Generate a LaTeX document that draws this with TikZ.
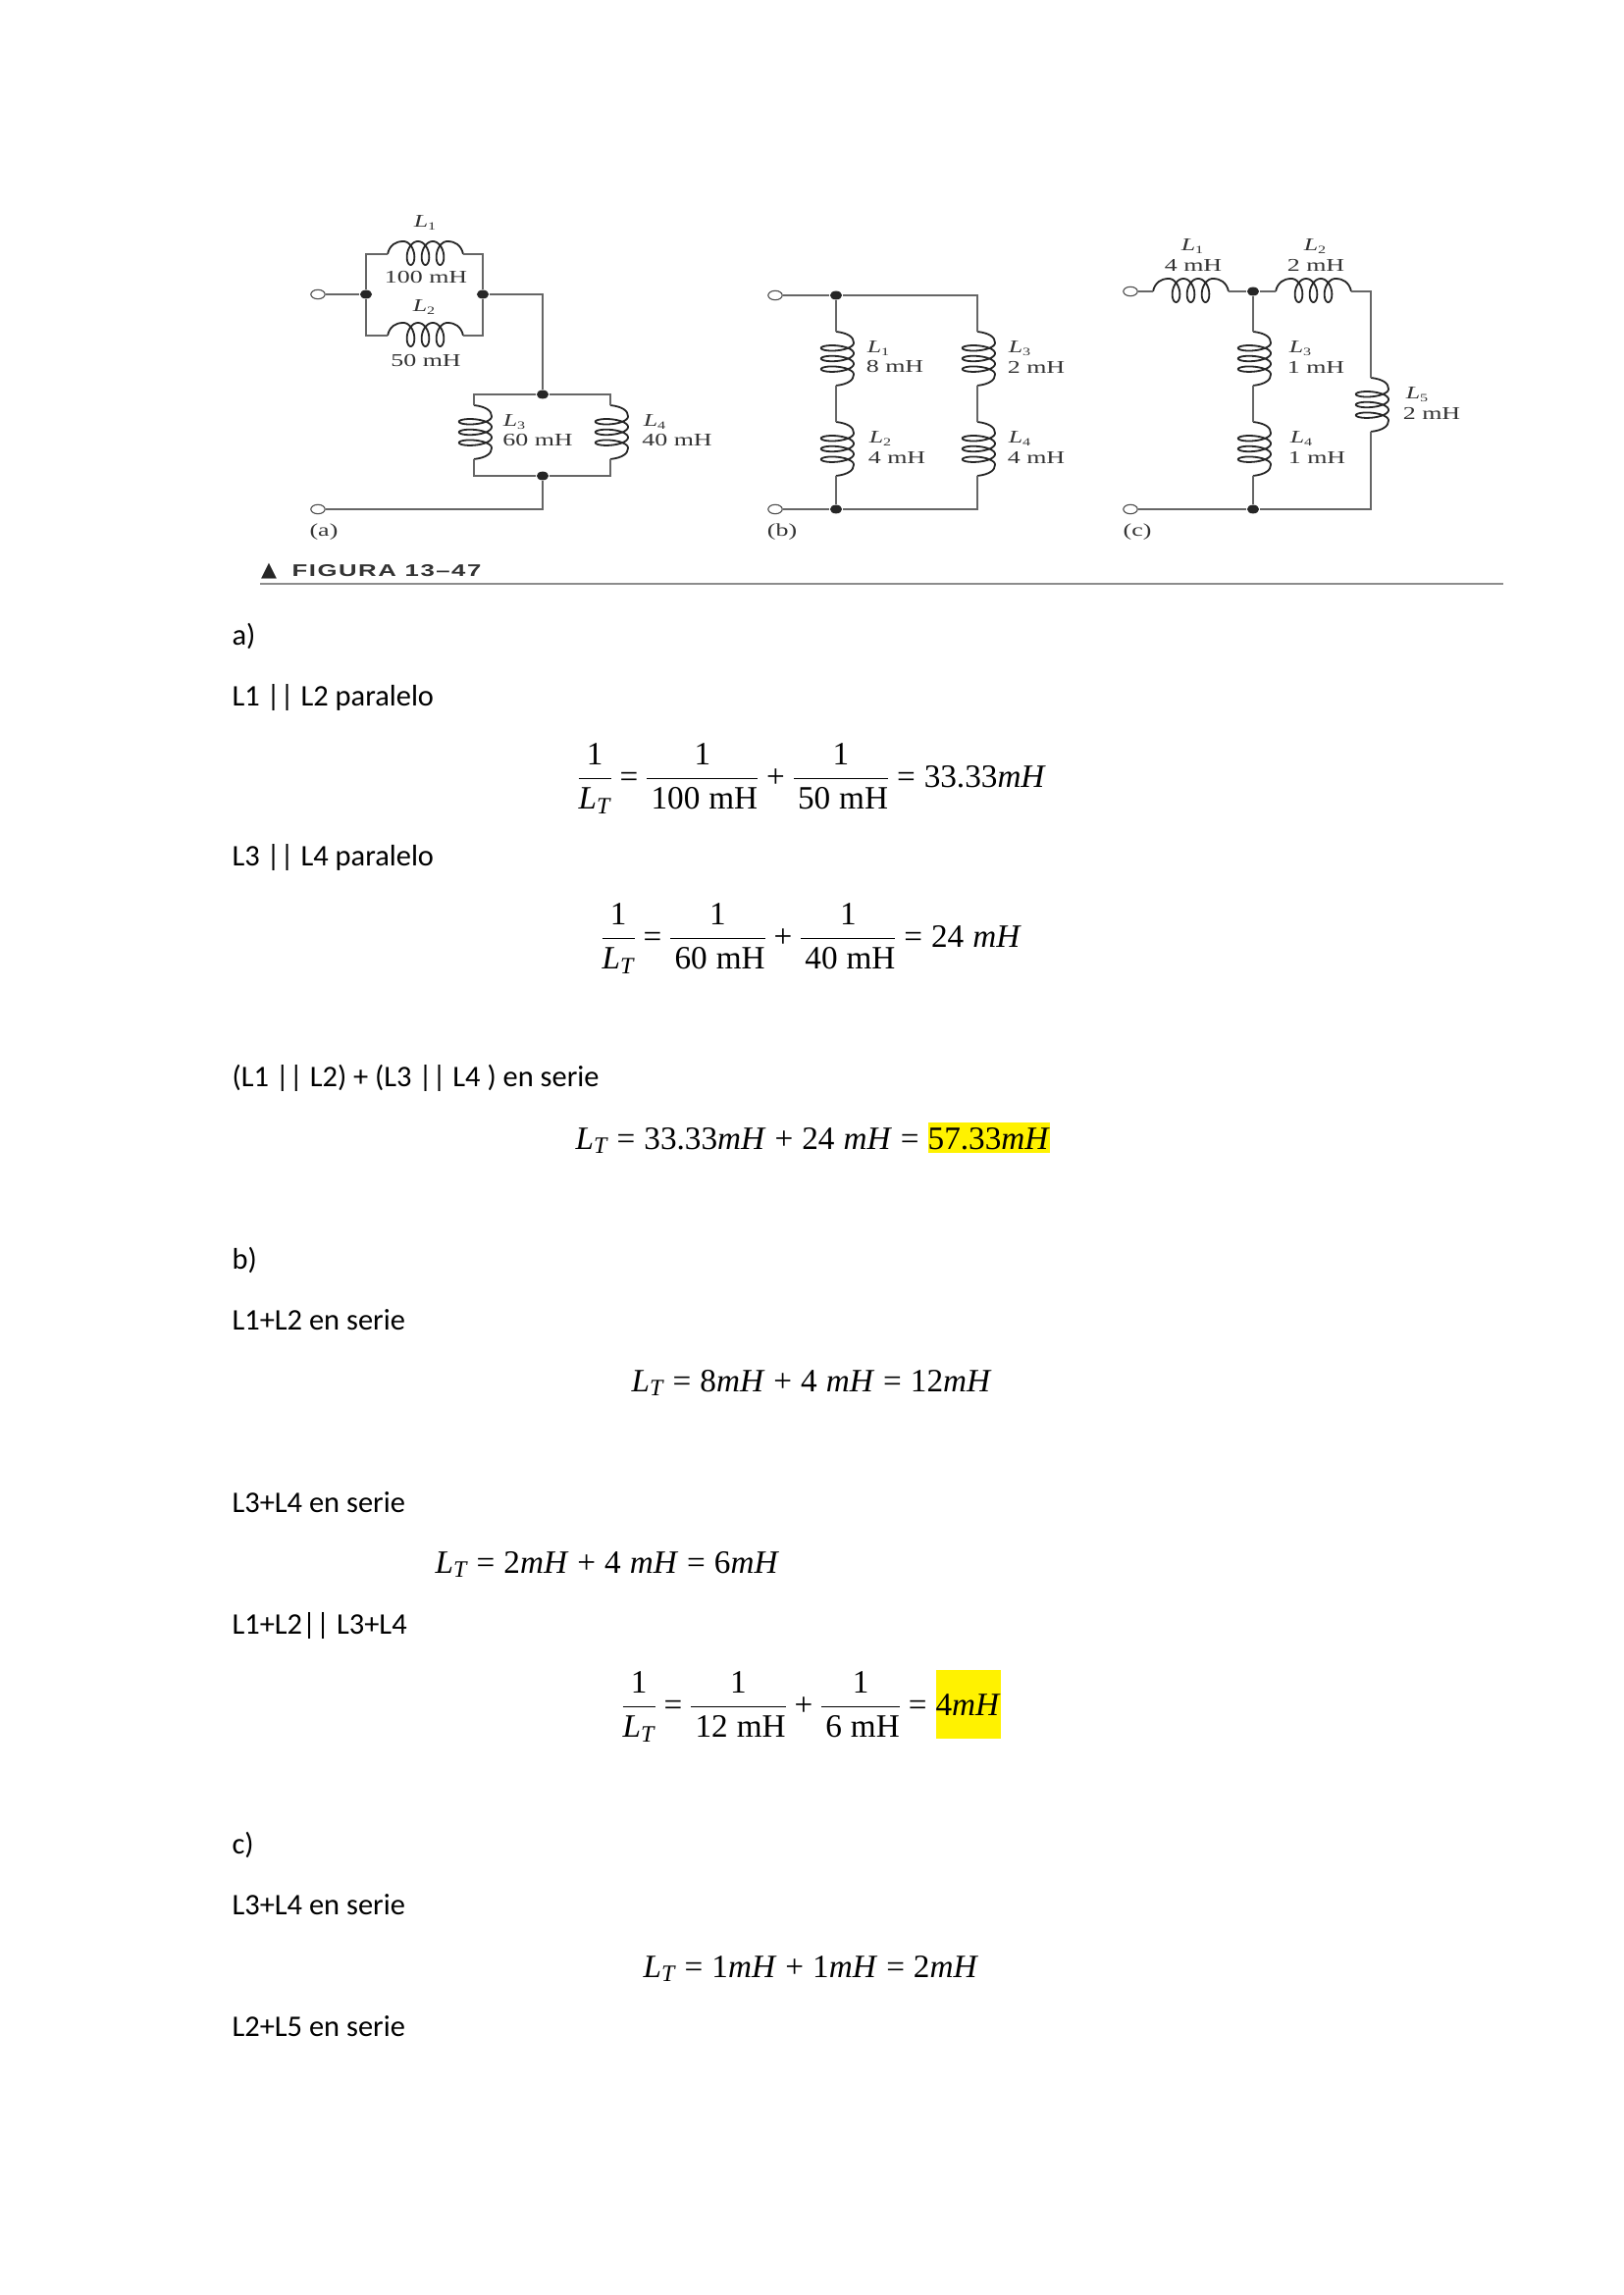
\documentclass[tikz,border=0pt]{standalone}
\usepackage{fontspec}
\setmainfont{Carlito}
\newfontfamily\eqfont{Liberation Serif}
\newfontfamily\figa[FakeStretch=1.42]{Liberation Serif}
\newfontfamily\figtitle[FakeStretch=1.5,LetterSpace=9]{Liberation Sans}
\newfontfamily\symfont{DejaVu Sans}
\usetikzlibrary{shapes.geometric}
\newcommand{\Lsub}[1]{\textit{L}\raisebox{-.35ex}{\scalebox{.62}{#1}}}
\newcommand{\eqfrac}[2]{\ensuremath{\displaystyle\frac{\hbox{#1}}{\hbox{#2}}}}
\newcommand{\LT}{\textit{L}\raisebox{-.3ex}{\scalebox{.72}{\textit{T}}}}
\newcommand{\mH}{\textit{mH}}
\newcommand{\hilite}[3]{{\setlength{\fboxsep}{0pt}\colorbox{yellow}{\rule[-#2]{0pt}{#1}#3}}}
\newcommand{\eqsetup}{\eqfont\fontsize{12}{14}\selectfont\spaceskip=.27em\relax\nulldelimiterspace=0pt\relax}
\newcommand{\coilshape}[1]{%
  \begin{scope}[#1]
    \coordinate (-in) at (0,0);
    \coordinate (-out) at (77,0);
    \draw[black!85, line width=0.65pt] (0,0) .. controls (2,-9) and (8,-13) .. (16,-13)
      -- plot[domain=0:1080, samples=120] ({16+15*\x/360+7.2*sin(\x)}, {-1-12*cos(\x)})
      .. controls (69,-13) and (75,-9) .. (77,0);
  \end{scope}}
\tikzset{
  pics/coilh/.style={code={\coilshape{x={(0.0127cm,0cm)}, y={(0cm,-0.0127cm)}}}},
  pics/coilv/.style={code={\coilshape{x={(0cm,-0.00907cm)}, y={(-0.0176cm,0cm)}}}}
}
\begin{document}
\begin{tikzpicture}[
    x=0.0127cm, y=-0.0127cm,
    wire/.style={black!60, line width=0.6pt},
    terminal/.style={draw=black!70, fill=white, ellipse, inner sep=0pt, minimum width=5.2pt, minimum height=3.4pt, line width=0.4pt},
    junction/.style={fill=black!85, ellipse, inner sep=0pt, minimum width=4.4pt, minimum height=3.2pt},
    label/.style={font=\figa\fontsize{6.6}{7}\selectfont, inner sep=0pt, text=black!80},
    texto/.style={anchor=base west, inner sep=0pt, font=\fontsize{11}{13}\selectfont},
    eq/.style={anchor=base west, inner sep=0pt, font=\eqsetup}
]
    \useasboundingbox (0,0) rectangle (1654,2339);

    % circuit (a)
    \node[terminal] (ta1) at (324,300) {};
    \node[terminal] (ta2) at (324,519) {};
    \node[junction] (ja1) at (373,300) {};
    \node[junction] (ja2) at (492,300) {};
    \node[junction] (ja3) at (553,402) {};
    \node[junction] (ja4) at (553,485) {};
    \coordinate (ca1) at (373,259);
    \coordinate (ca2) at (492,259);
    \coordinate (ca3) at (373,342);
    \coordinate (ca4) at (492,342);
    \coordinate (ca5) at (553,300);
    \coordinate (ca6) at (553,519);
    \coordinate (ca7) at (483,402);
    \coordinate (ca8) at (622,402);
    \coordinate (ca9) at (483,485);
    \coordinate (ca10) at (622,485);
    \path (395,259) pic (la1) {coilh};
    \path (395,342) pic (la2) {coilh};
    \path (483,413) pic (la3) {coilv};
    \path (622,413) pic (la4) {coilv};
    \draw[wire] (ta1) -- (ja1);
    \draw[wire] (ja1) -- (ca1) -- (la1-in);
    \draw[wire] (la1-out) -- (ca2) -- (ja2);
    \draw[wire] (ja1) -- (ca3) -- (la2-in);
    \draw[wire] (la2-out) -- (ca4) -- (ja2);
    \draw[wire] (ja2) -- (ca5) -- (ja3);
    \draw[wire] (ja3) -- (ca7) -- (la3-in);
    \draw[wire] (ja3) -- (ca8) -- (la4-in);
    \draw[wire] (la3-out) -- (ca9) -- (ja4);
    \draw[wire] (la4-out) -- (ca10) -- (ja4);
    \draw[wire] (ja4) -- (ca6) -- (ta2);
    \node[label] (na1) at (433,227) {\Lsub{1}};
    \node[label] (va1) at (434,283) {100 mH};
    \node[label] (na2) at (432,313) {\Lsub{2}};
    \node[label] (va2) at (434,368) {50 mH};
    \node[label] (na3) at (524,430) {\Lsub{3}};
    \node[label] (va3) at (548,449) {60 mH};
    \node[label] (na4) at (667,430) {\Lsub{4}};
    \node[label] (va4) at (690,449) {40 mH};
    \node[label] (capa) at (330,542) {(a)};

    % circuit (b)
    \node[terminal] (tb1) at (790,301) {};
    \node[terminal] (tb2) at (790,519) {};
    \node[junction] (jb1) at (852,301) {};
    \node[junction] (jb2) at (852,519) {};
    \coordinate (cb1) at (996,301);
    \coordinate (cb2) at (996,519);
    \path (852,338) pic (lb1) {coilv};
    \path (852,430) pic (lb2) {coilv};
    \path (996,338) pic (lb3) {coilv};
    \path (996,430) pic (lb4) {coilv};
    \draw[wire] (tb1) -- (jb1);
    \draw[wire] (tb2) -- (jb2);
    \draw[wire] (jb1) -- (lb1-in);
    \draw[wire] (lb1-out) -- (lb2-in);
    \draw[wire] (lb2-out) -- (jb2);
    \draw[wire] (jb1) -- (cb1) -- (lb3-in);
    \draw[wire] (lb3-out) -- (lb4-in);
    \draw[wire] (lb4-out) -- (cb2) -- (jb2);
    \node[label] (nb1) at (895,355) {\Lsub{1}};
    \node[label] (vb1) at (912,374) {8 mH};
    \node[label] (nb2) at (897,447) {\Lsub{2}};
    \node[label] (vb2) at (914,466) {4 mH};
    \node[label] (nb3) at (1039,355) {\Lsub{3}};
    \node[label] (vb3) at (1056,374) {2 mH};
    \node[label] (nb4) at (1039,447) {\Lsub{4}};
    \node[label] (vb4) at (1056,466) {4 mH};
    \node[label] (capb) at (797,542) {(b)};

    % circuit (c)
    \node[terminal] (tc1) at (1152,297) {};
    \node[terminal] (tc2) at (1152,519) {};
    \node[junction] (jc1) at (1277,297) {};
    \node[junction] (jc2) at (1277,519) {};
    \coordinate (cc1) at (1397,297);
    \coordinate (cc2) at (1397,519);
    \path (1175,297) pic (lc1) {coilh};
    \path (1300,297) pic (lc2) {coilh};
    \path (1277,338) pic (lc3) {coilv};
    \path (1277,430) pic (lc4) {coilv};
    \path (1397,385) pic (lc5) {coilv};
    \draw[wire] (tc1) -- (lc1-in);
    \draw[wire] (lc1-out) -- (jc1);
    \draw[wire] (jc1) -- (lc2-in);
    \draw[wire] (lc2-out) -- (cc1) -- (lc5-in);
    \draw[wire] (lc5-out) -- (cc2) -- (jc2);
    \draw[wire] (jc1) -- (lc3-in);
    \draw[wire] (lc3-out) -- (lc4-in);
    \draw[wire] (lc4-out) -- (jc2);
    \draw[wire] (tc2) -- (jc2);
    \node[label] (nc1) at (1215,251) {\Lsub{1}};
    \node[label] (vc1) at (1216,270) {4 mH};
    \node[label] (nc2) at (1340,251) {\Lsub{2}};
    \node[label] (vc2) at (1341,270) {2 mH};
    \node[label] (nc3) at (1325,355) {\Lsub{3}};
    \node[label] (vc3) at (1341,374) {1 mH};
    \node[label] (nc4) at (1326,447) {\Lsub{4}};
    \node[label] (vc4) at (1342,466) {1 mH};
    \node[label] (nc5) at (1444,402) {\Lsub{5}};
    \node[label] (vc5) at (1459,421) {2 mH};
    \node[label] (capc) at (1159,542) {(c)};

    % figure caption
    \node[inner sep=0pt, text=black!85, font=\symfont\fontsize{7.5}{8}\selectfont] (marca) at (274,582) {▲};
    \node[anchor=west, inner sep=0pt, text=black!80, font=\figtitle\bfseries\fontsize{6.2}{7}\selectfont] (titulo) at (297,582) {FIGURA 13–47};
    \coordinate (ra) at (265,595);
    \coordinate (rb) at (1532,595);
    \draw[black!45, line width=0.7pt] (ra) -- (rb);

    % part a
    \node[texto] (ta) at (236,658) {a)};
    \node[texto] (tb) at (236,720) {L1 || L2 paralelo};
    \node[eq] (eqa) at (589,802) {\eqfrac{1}{\LT} = \eqfrac{1}{\kern1.5pt 100 mH} + \eqfrac{1}{\kern1.5pt 50 mH} = 33.33\mH};
    \node[texto] (tc) at (236,882) {L3 || L4 paralelo};
    \node[eq] (eqb) at (613,965) {\eqfrac{1}{\LT} = \eqfrac{1}{\kern1.5pt 60 mH} + \eqfrac{1}{\kern1.5pt 40 mH} = 24 \mH};
    \node[texto] (td) at (236,1107) {(L1 || L2) + (L3 || L4 ) en serie};
    \node[eq] (eqc) at (586,1171) {\LT{} = 33.33\mH{} + 24 \mH{} = \hilite{11.2pt}{1.5pt}{57.33\mH}};

    % part b
    \node[texto] (te) at (236,1293) {b)};
    \node[texto] (tf) at (236,1355) {L1+L2 en serie};
    \node[eq] (eqd) at (643,1418) {\LT{} = 8\mH{} + 4 \mH{} = 12\mH};
    \node[texto] (tg) at (236,1541) {L3+L4 en serie};
    \node[eq] (eqe) at (443,1603) {\LT{} = 2\mH{} + 4 \mH{} = 6\mH};
    \node[texto] (th) at (236,1665) {L1+L2|| L3+L4};
    \node[eq] (eqf) at (634,1748) {\eqfrac{1}{\LT} = \eqfrac{1}{\kern1.5pt 12 mH} + \eqfrac{1}{\kern1.5pt 6 mH} = \hilite{25.2pt}{8.6pt}{4\mH}};

    % part c
    \node[texto] (ti) at (236,1889) {c)};
    \node[texto] (tj) at (236,1951) {L3+L4 en serie};
    \node[eq] (eqg) at (655,2015) {\LT{} = 1\mH{} + 1\mH{} = 2\mH};
    \node[texto] (tk) at (236,2075) {L2+L5 en serie};
\end{tikzpicture}
\end{document}
